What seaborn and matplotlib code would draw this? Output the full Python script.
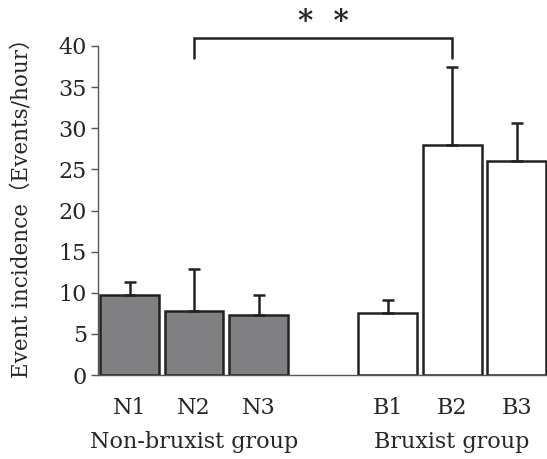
import matplotlib
matplotlib.use("Agg")
import matplotlib.pyplot as plt
import seaborn as sns
import pandas as pd
import numpy as np

categories = ["N1", "N2", "N3", "B1", "B2", "B3"]
means = [9.7, 7.8, 7.3, 7.5, 28.0, 26.0]
upper_err = [1.6, 5.1, 2.4, 1.6, 9.4, 4.6]
groups = ["Non-bruxist group", "Non-bruxist group", "Non-bruxist group",
          "Bruxist group", "Bruxist group", "Bruxist group"]
bar_colors = {"N1": "#808083", "N2": "#808083", "N3": "#808083",
              "B1": "#ffffff", "B2": "#ffffff", "B3": "#ffffff"}
order = ["N1", "N2", "N3", " ", "B1", "B2", "B3"]
yticks = [0, 5, 10, 15, 20, 25, 30, 35, 40]

sns.set_theme(style="white")
plt.rcParams["font.family"] = ["DejaVu Serif", "Noto Sans CJK JP"]

df = pd.DataFrame({"cat": categories, "mean": means, "err": upper_err, "group": groups})

fig = plt.figure(figsize=(5.47, 4.59), dpi=100)
ax = fig.add_axes([98 / 547, 1 - 375 / 459, 449 / 547, 329 / 459])

sns.barplot(data=df, x="cat", y="mean", hue="cat", order=order, palette=bar_colors,
            saturation=1, width=0.91, dodge=False, errorbar=None, legend=False,
            edgecolor="#222222", linewidth=1.8, ax=ax)

pos = [order.index(c) for c in categories]
ax.errorbar(pos, means, yerr=[np.zeros(len(means)), upper_err], fmt="none",
            ecolor="#222222", elinewidth=1.8, capsize=4, capthick=1.8, zorder=1)

ax.set_xlim(-0.49, 6.47)
ax.set_ylim(0, 40)
ax.set_yticks(yticks)
ax.set_yticklabels([str(t) for t in yticks], fontsize=16)
ax.set_xticks(range(len(order)))
ax.set_xticklabels(order, fontsize=16)
ax.tick_params(axis="x", length=0, pad=16)
ax.tick_params(axis="y", length=5, width=1, color="#555555", pad=3, left=True)
ax.set_xlabel("")
ax.set_ylabel("Event incidence（Events/hour）", fontsize=15.5)
ax.yaxis.set_label_coords(-0.145, 0.525)
for s in ["top", "right"]:
    ax.spines[s].set_visible(False)
for s in ["left", "bottom"]:
    ax.spines[s].set_color("#555555")
    ax.spines[s].set_linewidth(1)

# group labels
for label, xc in [("Non-bruxist group", 1), ("Bruxist group", 5)]:
    ax.annotate(label, xy=(xc, 0), xycoords="data", xytext=(0, -48),
                textcoords="offset points", ha="center", va="center", fontsize=16,
                annotation_clip=False)

# significance bracket
x1, x2 = order.index("N2"), order.index("B2")
ax.plot([x1, x1, x2, x2], [38.5, 41.0, 41.0, 38.5], color="#222222", lw=1.8,
        clip_on=False, solid_joinstyle="miter")
ax.text((x1 + x2) / 2, 43.0, "*  *", ha="center", va="center", fontsize=21,
        fontweight="bold", clip_on=False)

fig.savefig("out.png", dpi=100)
